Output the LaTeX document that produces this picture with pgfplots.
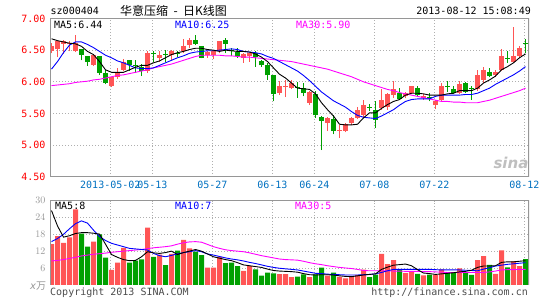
\documentclass[border=0pt]{standalone}
\usepackage{fontspec}
\setmainfont{DejaVu Sans}
\setmonofont{DejaVu Sans Mono}
\newfontfamily\cjk{Noto Sans CJK SC}
\usepackage{pgfplots}
\usepackage{pgfplotstable}
\pgfplotsset{compat=1.18}
\definecolor{cred}{RGB}{255,85,85}
\definecolor{cgreen}{RGB}{0,160,0}
\definecolor{cblue}{RGB}{0,0,255}
\definecolor{cmag}{RGB}{255,0,255}
\definecolor{cdate}{RGB}{0,112,192}
\definecolor{cframe}{RGB}{150,150,150}
\definecolor{cgrid}{RGB}{175,175,175}
\definecolor{clab}{RGB}{150,150,150}

% up days (red): i open high low close volume
\pgfplotstableread{
i o h l c v
0 6.48 6.62 6.45 6.57 14.5
1 6.52 6.65 6.39 6.64 17.4
2 6.60 6.66 6.44 6.65 15.0
3 6.59 6.65 6.48 6.61 16.9
4 6.48 6.74 6.47 6.61 26.9
7 6.27 6.43 6.25 6.42 15.4
10 5.94 6.08 5.92 6.07 5.3
11 6.07 6.22 6.05 6.16 7.9
12 6.19 6.36 6.17 6.32 13.2
16 6.17 6.48 6.14 6.45 20.4
18 6.38 6.48 6.32 6.42 10.8
20 6.42 6.51 6.35 6.48 11.0
22 6.48 6.67 6.46 6.56 16.0
23 6.58 6.69 6.54 6.66 13.0
26 6.42 6.48 6.38 6.47 6.1
27 6.43 6.50 6.36 6.48 6.1
28 6.48 6.65 6.45 6.64 10.0
32 6.38 6.46 6.30 6.44 5.0
33 6.40 6.46 6.32 6.45 6.7
38 5.82 6.01 5.79 5.93 3.8
39 5.92 6.03 5.76 5.935 3.8
40 5.90 6.03 5.88 5.98 2.7
43 5.67 5.85 5.63 5.84 2.7
46 5.35 5.44 5.22 5.43 3.3
48 5.23 5.32 5.11 5.245 2.8
49 5.23 5.35 5.20 5.33 2.3
50 5.35 5.45 5.32 5.43 2.9
51 5.43 5.61 5.41 5.56 3.5
52 5.48 5.72 5.45 5.63 5.4
55 5.59 5.88 5.56 5.72 11.0
56 5.60 5.82 5.56 5.81 7.4
57 5.79 6.01 5.75 5.89 8.8
59 5.77 5.84 5.74 5.82 4.2
60 5.82 5.93 5.80 5.93 4.5
62 5.75 5.80 5.72 5.77 3.4
64 5.63 5.72 5.57 5.70 3.5
65 5.72 5.98 5.70 5.93 5.5
68 5.82 6.01 5.81 5.96 5.9
71 5.88 6.18 5.86 6.10 8.8
72 6.03 6.24 5.98 6.19 10.2
74 6.10 6.19 6.07 6.15 3.9
75 6.18 6.52 6.17 6.40 12.3
77 6.32 6.86 6.31 6.40 8.4
78 6.40 6.56 6.39 6.54 6.7
}\up

% down days (green)
\pgfplotstableread{
i o h l c v
5 6.52 6.52 6.34 6.43 18.3
6 6.41 6.41 6.25 6.31 13.6
8 6.40 6.40 6.11 6.14 18.0
9 6.14 6.19 5.96 5.98 9.7
13 6.35 6.35 6.17 6.26 7.9
14 6.26 6.35 6.14 6.245 8.6
15 6.24 6.28 6.09 6.17 9.1
17 6.46 6.48 6.32 6.445 10.0
19 6.44 6.51 6.32 6.425 7.0
21 6.46 6.49 6.39 6.445 12.2
24 6.66 6.74 6.58 6.60 11.8
25 6.56 6.57 6.37 6.38 10.6
29 6.66 6.69 6.45 6.60 7.7
30 6.51 6.53 6.40 6.495 7.9
31 6.47 6.53 6.38 6.40 6.7
34 6.45 6.48 6.24 6.39 5.5
35 6.33 6.35 6.24 6.26 3.3
36 6.27 6.30 6.03 6.10 4.3
37 6.10 6.11 5.69 5.81 4.1
41 5.92 5.99 5.75 5.905 2.9
42 5.91 5.98 5.77 5.82 3.7
44 5.80 5.85 5.43 5.47 3.7
45 5.44 5.46 4.92 5.38 6.1
47 5.42 5.48 5.17 5.22 4.3
53 5.60 5.65 5.54 5.585 2.7
54 5.56 5.69 5.27 5.40 3.6
58 5.82 5.91 5.72 5.73 5.4
61 5.91 5.93 5.77 5.79 3.9
63 5.76 5.82 5.69 5.745 3.6
66 5.93 6.02 5.84 5.915 4.3
67 5.89 5.93 5.81 5.82 4.3
69 5.98 6.00 5.82 5.84 4.3
70 5.91 5.93 5.72 5.895 3.5
73 6.16 6.22 6.07 6.09 7.1
76 6.38 6.48 6.30 6.365 6.2
79 6.61 6.67 6.46 6.595 9.2
}\dn

% moving averages: price MA5 MA10 MA30, volume MA5 MA10 MA30
\pgfplotstableread{
i m5 m10 m30 v5 v10 v30
0 6.68 6.20 5.94 26.5 15.4 8.5
1 6.65 6.32 5.95 21.0 16.5 8.7
2 6.63 6.46 5.96 17.0 18.0 9.0
3 6.61 6.58 5.97 17.5 20.0 9.4
4 6.60 6.63 5.99 18.3 21.8 9.8
5 6.56 6.63 6.00 18.6 22.8 10.3
6 6.48 6.59 6.01 18.6 22.0 10.6
7 6.43 6.54 6.03 18.4 19.5 10.9
8 6.32 6.48 6.04 18.1 17.2 11.1
9 6.19 6.42 6.06 14.5 15.8 11.3
10 6.15 6.38 6.08 10.8 14.8 11.6
11 6.15 6.33 6.10 9.8 14.2 11.8
12 6.15 6.30 6.11 9.0 13.6 12.0
13 6.19 6.26 6.13 8.6 13.0 12.2
14 6.23 6.22 6.15 8.7 12.8 12.4
15 6.26 6.21 6.17 10.0 12.6 12.6
16 6.26 6.21 6.19 11.8 12.4 12.9
17 6.30 6.22 6.22 11.4 11.2 13.2
18 6.33 6.26 6.24 11.2 10.4 13.4
19 6.38 6.30 6.26 11.5 10.0 13.6
20 6.43 6.34 6.28 12.0 10.5 13.9
21 6.46 6.38 6.31 10.8 11.0 14.5
22 6.48 6.41 6.34 11.5 11.5 15.0
23 6.51 6.45 6.37 12.0 11.8 15.3
24 6.53 6.47 6.40 12.6 12.2 15.4
25 6.53 6.48 6.42 12.0 11.8 15.2
26 6.51 6.49 6.42 11.0 11.0 14.4
27 6.50 6.49 6.42 10.0 10.6 13.6
28 6.48 6.50 6.42 9.5 10.1 13.0
29 6.50 6.51 6.41 9.0 9.6 12.5
30 6.49 6.52 6.41 8.6 9.2 12.2
31 6.48 6.51 6.40 7.9 8.9 12.0
32 6.48 6.48 6.39 7.1 8.5 11.8
33 6.47 6.47 6.39 6.8 8.0 11.4
34 6.44 6.46 6.38 6.5 7.6 10.9
35 6.39 6.44 6.37 6.2 7.1 10.4
36 6.32 6.40 6.36 5.6 6.6 10.0
37 6.22 6.37 6.35 5.1 6.2 9.6
38 6.12 6.32 6.34 4.9 5.9 9.2
39 6.06 6.27 6.33 4.8 5.7 9.0
40 5.98 6.22 6.32 4.7 5.5 8.9
41 5.90 6.17 6.30 4.5 5.3 8.8
42 5.89 6.10 6.28 4.0 4.9 8.4
43 5.88 6.02 6.26 3.6 4.5 7.9
44 5.81 5.93 6.24 3.5 4.1 7.5
45 5.67 5.84 6.22 3.6 4.0 7.2
46 5.56 5.77 6.20 3.6 3.8 6.8
47 5.46 5.70 6.17 3.5 3.7 6.5
48 5.33 5.65 6.14 3.2 3.6 6.2
49 5.32 5.60 6.11 3.0 3.5 6.0
50 5.32 5.53 6.08 2.9 3.5 5.8
51 5.33 5.47 6.04 3.2 3.5 5.5
52 5.43 5.44 6.00 3.5 3.6 5.1
53 5.51 5.43 5.97 3.7 3.7 5.0
54 5.51 5.42 5.94 3.9 3.9 5.0
55 5.58 5.46 5.91 5.5 4.4 5.0
56 5.64 5.51 5.88 6.3 5.0 5.0
57 5.69 5.56 5.86 7.0 5.5 4.9
58 5.72 5.63 5.83 7.2 5.5 4.9
59 5.79 5.69 5.81 7.4 5.5 4.8
60 5.82 5.72 5.79 6.8 5.5 4.8
61 5.82 5.73 5.77 5.4 5.5 4.8
62 5.81 5.73 5.75 4.2 5.5 4.7
63 5.79 5.73 5.73 4.0 5.5 4.7
64 5.79 5.77 5.71 3.7 5.4 4.6
65 5.79 5.79 5.69 3.9 5.3 4.5
66 5.81 5.79 5.69 4.1 5.3 4.4
67 5.82 5.79 5.68 4.3 5.3 4.4
68 5.86 5.79 5.68 4.6 5.3 4.4
69 5.86 5.80 5.67 4.8 5.2 4.4
70 5.86 5.80 5.67 5.2 5.1 4.4
71 5.90 5.82 5.67 6.2 5.0 4.4
72 5.98 5.86 5.69 6.7 5.6 4.4
73 6.03 5.90 5.71 6.7 6.1 4.6
74 6.09 5.96 5.74 6.8 6.7 4.9
75 6.19 6.01 5.77 8.0 7.0 5.3
76 6.24 6.06 5.80 8.2 7.3 5.4
77 6.30 6.11 5.83 8.2 7.5 5.4
78 6.38 6.17 5.86 8.4 7.7 5.5
79 6.44 6.24 5.90 8.6 7.9 5.5
}\ma

\pgfplotsset{
  sinapanel/.style={
    scale only axis, anchor=south west,
    width=479.1pt, xmin=-0.25, xmax=79.6,
    xtick={9.8,16.8,26.8,36.8,43.8,53.8,63.8,78.8},
    grid=major,
    major grid style={color=cgrid, line width=0.8pt, dash pattern=on 0.8pt off 2.2pt},
    major tick length=0pt,
    axis line style={draw=none},
    ticklabel style={font=\ttfamily\fontsize{10}{12}\selectfont},
  },
  wick/.style={forget plot, draw=none, mark=none,
    error bars/.cd, y dir=plus, y explicit, error mark=none,
    error bar style={line width=1pt, draw=#1, solid}},
  body/.style={forget plot, draw=none, mark=none,
    error bars/.cd, y dir=plus, y explicit, error mark=none,
    error bar style={line width=4.6pt, draw=#1, solid}},
}

\begin{document}
\begin{tikzpicture}
\useasboundingbox (0pt,0pt) rectangle (545pt,300pt);

% ---------------- price panel ----------------
\begin{axis}[sinapanel,
  at={(50pt,123.2pt)}, height=158.3pt,
  ymin=4.5, ymax=7,
  xticklabels={2013-05-02,05-13,05-27,06-13,06-24,07-08,07-22,08-12},
  xticklabel style={text=cdate, yshift=-1pt},
  ytick={4.5,5,5.5,6,6.5,7},
  yticklabels={4.50,5.00,5.50,6.00,6.50,7.00},
  yticklabel style={text=red, xshift=-1pt},
]
\addplot[wick=cred] table[x=i, y=l, y error plus expr=\thisrow{h}-\thisrow{l}] {\up};
\addplot[wick=cgreen] table[x=i, y=l, y error plus expr=\thisrow{h}-\thisrow{l}] {\dn};
\addplot[body=cred] table[x=i, y=o, y error plus expr=\thisrow{c}-\thisrow{o}] {\up};
\addplot[body=cgreen] table[x=i, y=c, y error plus expr=\thisrow{o}-\thisrow{c}] {\dn};
\addplot[cmag, line width=0.9pt, mark=none] table[x=i, y=m30] {\ma};
\addplot[cblue, line width=0.9pt, mark=none] table[x=i, y=m10] {\ma};
\addplot[black, line width=0.9pt, mark=none] table[x=i, y=m5] {\ma};
\draw[cframe, line width=1.3pt] (rel axis cs:0,0) rectangle (rel axis cs:1,1);
\end{axis}

% ---------------- volume panel ----------------
\begin{axis}[sinapanel,
  at={(50pt,15.2pt)}, height=84.1pt,
  ymin=0, ymax=30,
  xticklabels={},
  ytick={6,12,18,24,30},
  yticklabel style={text=clab, xshift=-1pt},
]
\addplot[ybar, bar width=5pt, bar shift=0pt, fill=cred, draw=none, forget plot] table[x=i, y=v] {\up};
\addplot[ybar, bar width=5pt, bar shift=0pt, fill=cgreen, draw=none, forget plot] table[x=i, y=v] {\dn};
\addplot[cmag, line width=0.9pt, mark=none] table[x=i, y=v30] {\ma};
\addplot[cblue, line width=0.9pt, mark=none] table[x=i, y=v10] {\ma};
\addplot[black, line width=0.9pt, mark=none] table[x=i, y=v5] {\ma};
\draw[cframe, line width=1.3pt] (rel axis cs:0,0) -- (rel axis cs:0,1) -- (rel axis cs:1,1) -- (rel axis cs:1,0);
\end{axis}

% ---------------- texts ----------------
\node[anchor=west, inner sep=0pt, font=\ttfamily\fontsize{10}{12}\selectfont] at (50.5pt,289pt) {sz000404};
\node[anchor=west, inner sep=0pt, font=\cjk\fontsize{12}{14}\selectfont] at (120pt,289pt) {华意压缩\ \ -\ \ 日K线图};
\node[anchor=east, inner sep=0pt, font=\ttfamily\fontsize{10}{12}\selectfont] at (531pt,289pt) {2013-08-12 15:08:49};

\node[anchor=west, inner sep=0pt, font=\ttfamily\fontsize{10}{12}\selectfont] at (54pt,275.5pt) {MA5:6.44};
\node[anchor=west, inner sep=0pt, font=\ttfamily\fontsize{10}{12}\selectfont, text=cblue] at (175pt,275.5pt) {MA10:6.25};
\node[anchor=west, inner sep=0pt, font=\ttfamily\fontsize{10}{12}\selectfont, text=cmag] at (296pt,275.5pt) {MA30:5.90};

\node[anchor=west, inner sep=0pt, font=\ttfamily\fontsize{10}{12}\selectfont] at (55pt,94pt) {MA5:8};
\node[anchor=west, inner sep=0pt, font=\ttfamily\fontsize{10}{12}\selectfont, text=cblue] at (175pt,94pt) {MA10:7};
\node[anchor=west, inner sep=0pt, font=\ttfamily\fontsize{10}{12}\selectfont, text=cmag] at (295pt,94pt) {MA30:5};

\node[anchor=west, inner sep=0pt, font=\fontsize{10}{12}\selectfont, text=clab] at (30pt,14pt) {\textit{x}{\cjk 万}};
\node[anchor=west, inner sep=0pt, font=\ttfamily\fontsize{10}{12}\selectfont, text=black!70] at (50pt,7.5pt) {Copyright 2013 SINA.COM};
\node[anchor=east, inner sep=0pt, font=\ttfamily\fontsize{10}{12}\selectfont, text=black!70] at (528pt,7.5pt) {http://finance.sina.com.cn};

\node[anchor=center, inner sep=0pt, font=\bfseries\itshape\fontsize{15}{16}\selectfont, text=black!25] at (511pt,137pt) {sina};
\end{tikzpicture}
\end{document}
